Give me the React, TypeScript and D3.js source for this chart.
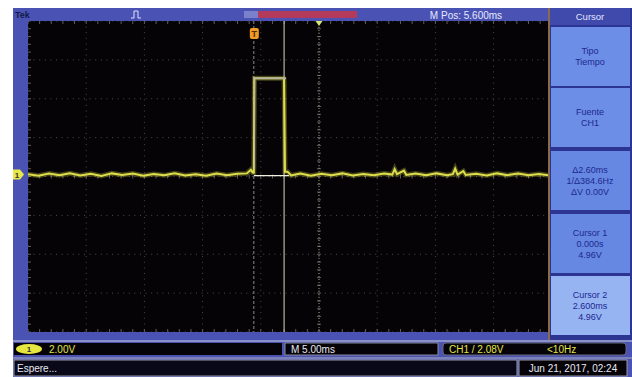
import * as d3 from "d3";

// scope settings
const timePerDiv = 5; // ms
const voltPerDiv = 2; // V
const mPos = 5.6; // ms, trigger -> centre
const hDivs = 10;
const vDivs = 8;

// trace samples [time ms, volts]
const trace: [number, number][] = [
  [-19.4, 0.02], [-18.5, -0.06], [-17.6, 0.05], [-16.7, -0.03], [-15.8, 0.07], [-14.9, -0.05],
  [-14, 0.04], [-13.1, -0.07], [-12.2, 0.06], [-11.3, -0.02], [-10.4, 0.05], [-9.5, -0.06],
  [-8.6, 0.03], [-7.7, -0.04], [-6.8, 0.07], [-5.9, -0.05], [-5, 0.02], [-4.1, -0.06],
  [-3.2, 0.05], [-2.3, -0.03], [-1.4, 0.04], [-0.6, 0.06], [-0.25, 0.25], [-0.1, 0.1],
  [0, 0.1], [0.05, 4.96], [2.55, 4.96], [2.6, 4.9], [2.68, 0.15], [2.9, 0.15], [3.2, -0.05],
  [4, 0.05], [4.9, -0.06], [5.8, 0.04], [6.7, -0.03], [7.6, 0.06], [8.5, -0.05], [9.4, 0.03],
  [10.3, -0.04], [11.2, 0.05], [11.9, 0.0], [12.1, 0.28], [12.3, 0.02], [12.9, 0.2], [13.1, -0.02],
  [13.9, 0.05], [14.8, -0.04], [15.7, 0.06], [16.6, -0.03], [17.1, 0.02], [17.3, 0.3], [17.5, 0.0],
  [18.0, 0.18], [18.2, -0.02], [19.1, 0.04], [20, -0.05], [20.9, 0.06], [21.8, -0.03], [22.7, 0.05],
  [23.6, -0.04], [24.5, 0.03], [25.4, -0.05], [26.3, 0.04], [27.2, -0.02], [28, 0.03],
];

const cursor1 = { t: 0, v: 4.96 };
const cursor2 = { t: 2.6, v: 4.96 };

const menuTitle = "Cursor";
const menuButtons: string[][] = [
  ["Tipo", "Tiempo"],
  ["Fuente", "CH1"],
  ["Δ2.60ms", "1/Δ384.6Hz", "ΔV 0.00V"],
  ["Cursor 1", "0.000s", "4.96V"],
  ["Cursor 2", "2.600ms", "4.96V"],
];

const topText = "M Pos: 5.600ms";
const chScale = "2.00V";
const hScale = "M 5.00ms";
const trigText = "CH1 / 2.08V";
const freqText = "<10Hz";
const statusText = "Espere...";
const dateText = "Jun 21, 2017, 02:24";

const W = 632;
const H = 377;
const font = "'Liberation Sans', Arial, sans-serif";

export default function App() {
  const plotL = 28, plotT = 21, plotB = 332, plotR = 610, visR = 548;
  const t0 = mPos - (hDivs / 2) * timePerDiv;
  const x = d3.scaleLinear([t0, t0 + hDivs * timePerDiv], [plotL, plotR]);
  const y = d3.scaleLinear([-8.1, -8.1 + vDivs * voltPerDiv], [plotB, plotT]);
  const line = d3.line<[number, number]>((d) => x(d[0]), (d) => y(d[1]));

  const vLines = d3.range(hDivs + 1).map((i) => t0 + i * timePerDiv);
  const hLines = d3.range(vDivs + 1).map((i) => -8.1 + i * voltPerDiv);
  const cx = x(mPos);
  const cy = (plotT + plotB) / 2;
  const minorX = d3.range(hDivs * 5 + 1).map((i) => t0 + (i * timePerDiv) / 5);
  const minorY = d3.range(vDivs * 5 + 1).map((i) => -8.1 + (i * voltPerDiv) / 5);

  const btnTops = [27, 88, 151, 214, 276];
  const btnH = 59;

  return (
    <svg width={W} height={H} style={{ position: "absolute", left: 0, top: 0 }} fontFamily={font}>
      <defs>
        <clipPath id="plot">
          <rect x={plotL} y={plotT} width={visR - plotL} height={plotB - plotT} />
        </clipPath>
      </defs>
      <rect x={0} y={0} width={W} height={H} fill="#fff" />
      {/* screen */}
      <rect x={13} y={8} width={619} height={369} fill="#4a53b4" />
      {/* top bar */}
      <text x={15} y={18} fontSize={9} fontWeight="bold" fill="#14184a">Tek</text>
      <path d="M131,18 h3 v-7 h4 v7 h3" fill="none" stroke="#dfe2ff" strokeWidth={1} />
      <rect x={244} y={11} width={14} height={7} fill="#7a80cc" />
      <rect x={258} y={11} width={99} height={7} fill="#b43a5c" />
      <text x={466} y={19} fontSize={10} fill="#e6e8ff" textAnchor="middle">{topText}</text>

      {/* plot */}
      <rect x={plotL} y={plotT} width={visR - plotL} height={plotB - plotT} fill="#050306" />
      <g clipPath="url(#plot)">
        <g stroke="#4c4c4c" strokeWidth={1} strokeDasharray="1,4.6">
          {vLines.map((t, i) => (
            <line key={"v" + i} x1={x(t)} x2={x(t)} y1={plotT} y2={plotB} />
          ))}
          {hLines.map((v, i) => (
            <line key={"h" + i} x1={plotL} x2={plotR} y1={y(v)} y2={y(v)} />
          ))}
        </g>
        <g stroke="#5e5e5e" strokeWidth={1}>
          {minorX.map((t, i) => (
            <line key={"mx" + i} x1={x(t)} x2={x(t)} y1={cy - 2} y2={cy + 2} />
          ))}
          {minorY.map((v, i) => (
            <line key={"my" + i} x1={cx - 2} x2={cx + 2} y1={y(v)} y2={y(v)} />
          ))}
          {minorY.map((v, i) => (
            <line key={"ly" + i} x1={plotL} x2={plotL + 3} y1={y(v)} y2={y(v)} />
          ))}
          {minorX.map((t, i) => (
            <line key={"tx" + i} x1={x(t)} x2={x(t)} y1={plotT} y2={plotT + 3} />
          ))}
          {minorX.map((t, i) => (
            <line key={"bx" + i} x1={x(t)} x2={x(t)} y1={plotB - 3} y2={plotB} />
          ))}
        </g>
        <line x1={cx} x2={cx} y1={plotT} y2={plotB} stroke="#9a9a80" strokeDasharray="1,2" />
        {/* cursors */}
        <line x1={x(cursor1.t)} x2={x(cursor1.t)} y1={plotT} y2={plotB} stroke="#8c8c8c" strokeDasharray="3,2" />
        <line x1={x(cursor2.t)} x2={x(cursor2.t)} y1={plotT} y2={plotB} stroke="#d8d8c0" strokeWidth={1} />
        {/* trace */}
        <path d={line(trace) ?? ""} fill="none" stroke="#d0d040" strokeOpacity={0.3} strokeWidth={5} />
        <path d={line(trace) ?? ""} fill="none" stroke="#dede4c" strokeWidth={2} />
        <line x1={x(cursor1.t)} x2={x(cursor2.t) + 2} y1={y(cursor1.v)} y2={y(cursor2.v)} stroke="#b4b49c" strokeWidth={2} />
        <line x1={x(cursor1.t) + 0.5} x2={x(cursor1.t) + 0.5} y1={y(cursor1.v)} y2={y(0.3)} stroke="#bcbc9c" strokeWidth={1.5} />
        <line x1={x(cursor1.t)} x2={x(cursor2.t) + 5} y1={y(0) + 1} y2={y(0) + 1} stroke="#f0f0e0" strokeWidth={1.2} />
      </g>
      {/* trigger & expansion markers */}
      <rect x={x(0) - 4} y={28} width={9} height={11} rx={2} fill="#f09a28" />
      <text x={x(0) + 0.5} y={37} fontSize={9} fontWeight="bold" fill="#5a2a00" textAnchor="middle">T</text>
      <path d={`M${cx - 3.5},${plotT} h7 l-3.5,5 z`} fill="#d8e870" />
      {/* ground marker */}
      <path d={`M13,${y(0) - 5} h7 l4,5 l-4,5 h-7 z`} fill="#e8e84a" />
      <text x={17} y={y(0) + 3} fontSize={8} fontWeight="bold" fill="#333" textAnchor="middle">1</text>

      {/* side menu */}
      <line x1={549} x2={549} y1={8} y2={340} stroke="#8a6a48" strokeWidth={2} />
      <rect x={550} y={8} width={82} height={332} fill="#2c3592" />
      <rect x={550} y={8} width={80} height={17} fill="#4049ac" />
      <text x={590} y={20} fontSize={9.5} fill="#e2e6ff" textAnchor="middle">{menuTitle}</text>
      {menuButtons.map((lines, i) => {
        const top = btnTops[i];
        const lh = 11;
        const start = top + btnH / 2 - ((lines.length - 1) * lh) / 2 + 3;
        return (
          <g key={i}>
            <rect x={551} y={top} width={79} height={btnH} fill={i === 4 ? "#96b3f2" : i === 2 || i === 3 ? "#6688e2" : "#6c8ee6"} />
            {lines.map((s, j) => (
              <text key={j} x={590} y={start + j * lh} fontSize={9} fill="#1c2890" textAnchor="middle">{s}</text>
            ))}
          </g>
        );
      })}

      {/* bottom status */}
      <rect x={13} y={340} width={619} height={2} fill="#8a90c8" />
      <rect x={14} y={343} width={268} height={12} fill="#050308" />
      <ellipse cx={29} cy={349} rx={13} ry={5} fill="#e6e640" />
      <text x={29} y={352} fontSize={8} fontWeight="bold" fill="#333" textAnchor="middle">1</text>
      <text x={49} y={352.5} fontSize={10} fill="#e4e44a">{chScale}</text>
      <rect x={285} y={343} width={153} height={12} fill="#050308" stroke="#8a8a9a" strokeWidth={1} />
      <text x={291} y={352.5} fontSize={10} fill="#e8e8f0">{hScale}</text>
      <rect x={443} y={343} width={183} height={12} rx={3} fill="#050308" stroke="#6a6a7a" />
      <text x={449} y={352.5} fontSize={10} fill="#e4e44a">{trigText}</text>
      <text x={547} y={352.5} fontSize={10} fill="#e4e44a">{freqText}</text>
      <rect x={13} y={357} width={619} height={2} fill="#7c82b8" />
      <rect x={14} y={360} width={503} height={16} fill="#080818" stroke="#9a9aa8" strokeWidth={1} />
      <text x={17} y={372} fontSize={10} fill="#e8e8f0">{statusText}</text>
      <rect x={519} y={360} width={108} height={16} fill="#050308" stroke="#9a9aa8" strokeWidth={1} />
      <text x={573} y={372} fontSize={10} fill="#e8e8f0" textAnchor="middle">{dateText}</text>
    </svg>
  );
}
